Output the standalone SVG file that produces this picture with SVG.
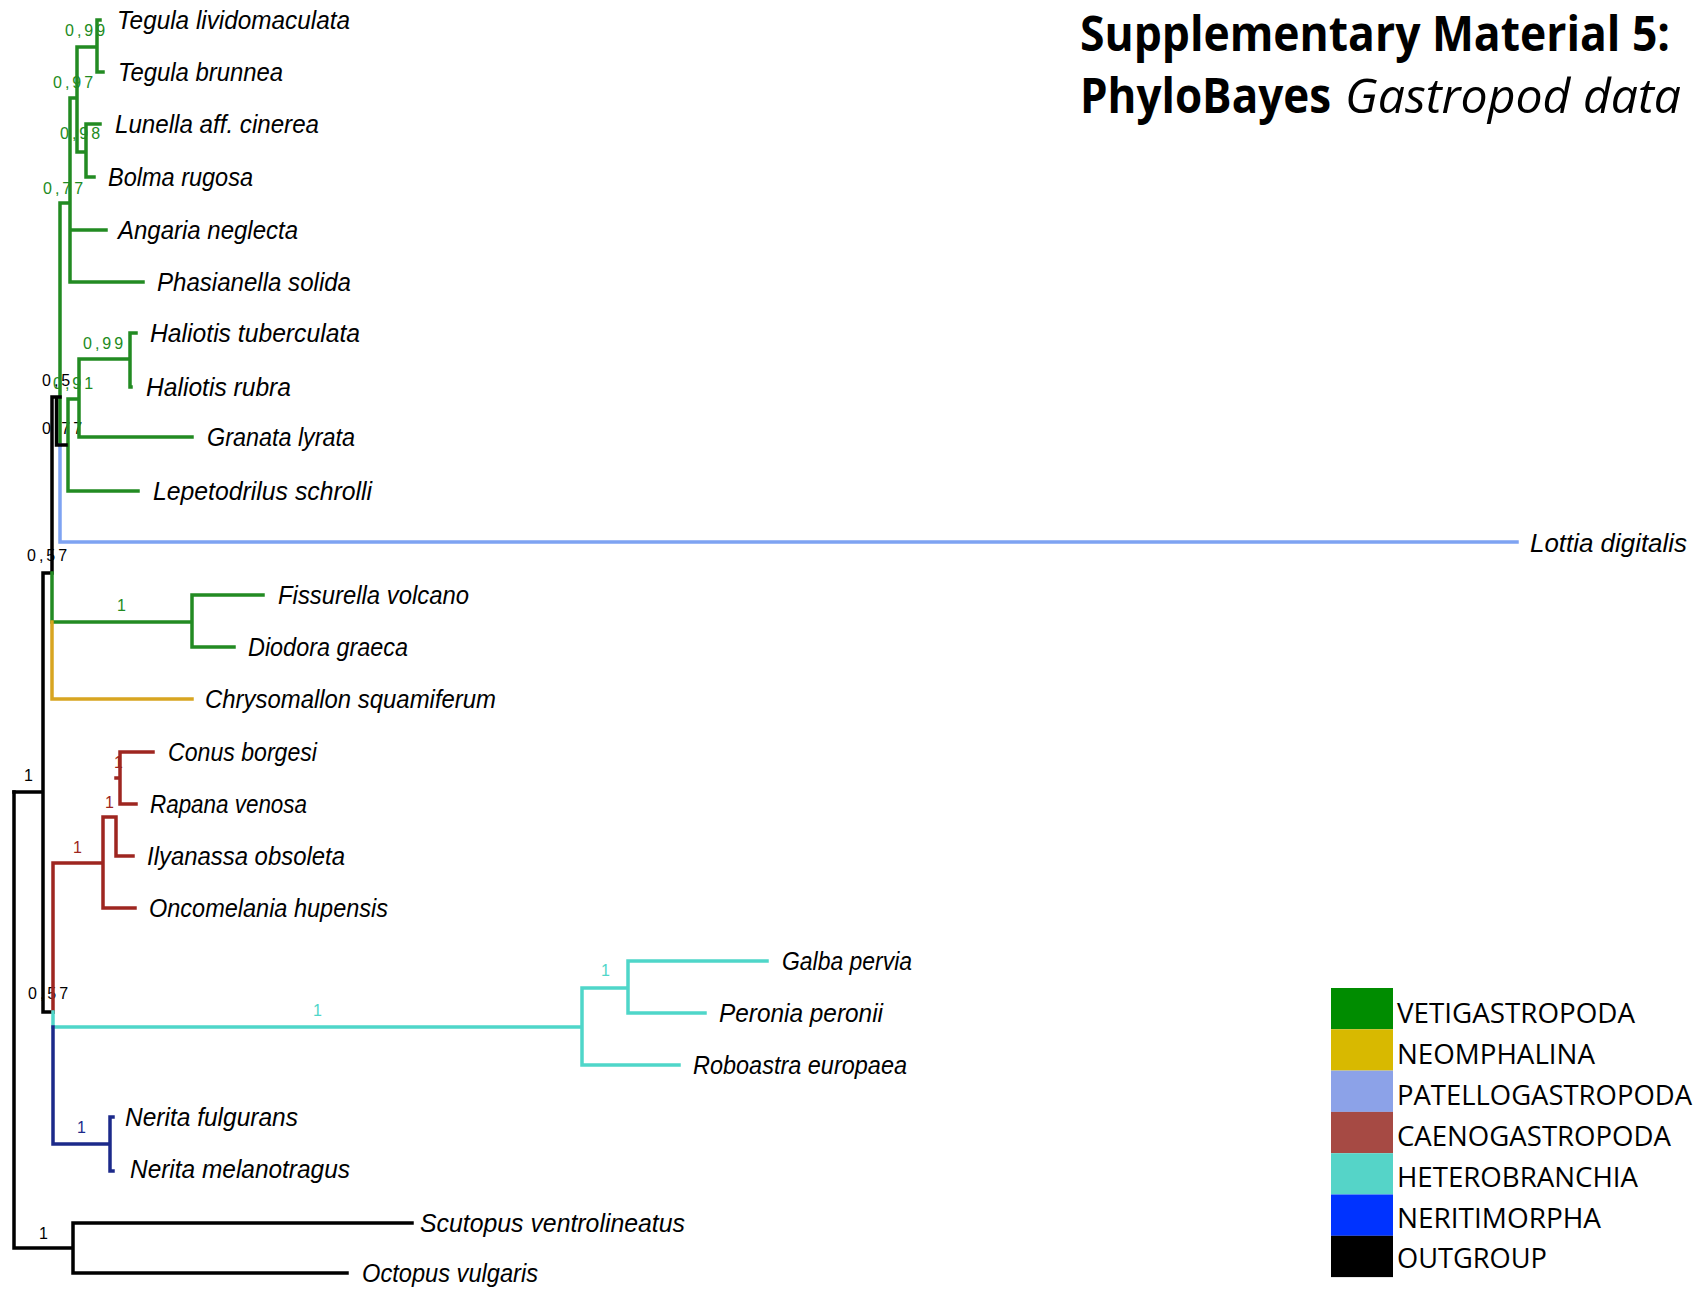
<svg xmlns="http://www.w3.org/2000/svg" width="1697" height="1289" viewBox="0 0 1697 1289">
<style>
.br{fill:none;stroke-width:3.5;stroke-linecap:square;stroke-linejoin:miter}
.g{stroke:#228b22}.k{stroke:#000}.lb{stroke:#7ea3f2}.au{stroke:#d8a521}.rd{stroke:#9e2620}.cy{stroke:#4fd6c9}.bl{stroke:#1c2a8a}
.tx{font-family:"Liberation Sans",Arial,sans-serif;font-style:italic;font-size:25px;fill:#000}
.sp{font-family:"Liberation Sans",Arial,sans-serif;font-size:16px;letter-spacing:3px}
.lg{font-family:"Open Sans","Liberation Sans",sans-serif;font-size:27px;fill:#000}
.tt{font-family:"Open Sans","Liberation Sans",sans-serif;font-size:48px;fill:#000}
</style>
<rect width="1697" height="1289" fill="#fff"/>
<g id="title">
<text class="tt" font-weight="bold" x="1080" y="51" textLength="590" lengthAdjust="spacingAndGlyphs">Supplementary Material 5:</text>
<text class="tt" y="113"><tspan x="1080" font-weight="bold" textLength="251" lengthAdjust="spacingAndGlyphs">PhyloBayes</tspan><tspan x="1345" font-style="italic" textLength="336" lengthAdjust="spacingAndGlyphs">Gastropod data</tspan></text>
</g>
<g id="support-labels">
<text class="sp" x="42" y="386" fill="#000">0,5</text>
<text class="sp" x="65" y="36" fill="#228b22">0,99</text>
<text class="sp" x="53" y="88" fill="#228b22">0,97</text>
<text class="sp" x="60" y="139" fill="#228b22">0,98</text>
<text class="sp" x="43" y="194" fill="#228b22">0,77</text>
<text class="sp" x="83" y="349" fill="#228b22">0,99</text>
<text class="sp" x="53" y="389" fill="#228b22">0,91</text>
<text class="sp" x="42" y="434" fill="#000">0,77</text>
<text class="sp" x="27" y="561" fill="#000">0,57</text>
<text class="sp" x="117" y="611" fill="#228b22">1</text>
<text class="sp" x="114" y="768" fill="#9e2620">1</text>
<text class="sp" x="24" y="781" fill="#000">1</text>
<text class="sp" x="105" y="808" fill="#9e2620">1</text>
<text class="sp" x="73" y="853" fill="#9e2620">1</text>
<text class="sp" x="28" y="999" fill="#000">0,57</text>
<text class="sp" x="313" y="1016" fill="#4fd6c9">1</text>
<text class="sp" x="601" y="976" fill="#4fd6c9">1</text>
<text class="sp" x="77" y="1133" fill="#1c2a8a">1</text>
<text class="sp" x="39" y="1239" fill="#000">1</text>
</g>
<g id="connectors">
<path class="br g" d="M100,20H97V72H103M97,47H77V152H86M86,124V177M86,124H100M86,177H94M77,98H70V282H143M70,230H106M70,203H60V445"/>
<path class="br g" d="M136,333H130V387H131M130,359H79V437H192M79,399H68V491H138"/>
<path class="br lb" d="M60,445V542H1517"/>
<path class="br k" d="M52,397H60M56.5,397V445H66M52,397V573H43V1012H53M14,792H43"/>
<path class="br g" d="M52,573V622H192M192,595V647M192,595H263M192,647H234"/>
<path class="br au" d="M52,622V699H192"/>
<path class="br rd" d="M53,1012V863H103M103,817V908H135M103,817H116V856H133M116,778H120M120,752V804M120,752H153M120,804H136"/>
<path class="br cy" d="M53,1012V1027H582M582,988V1065H679M582,988H628V1013H705M628,961V988M628,961H767"/>
<path class="br bl" d="M53,1027V1144H110M110,1117V1171M110,1117H113M110,1171H113"/>
<path class="br k" d="M14,792V1248H73M73,1223V1273M73,1223H412M73,1273H347"/>
</g>
<g id="taxa">
<text class="tx" x="117" y="29" textLength="233" lengthAdjust="spacingAndGlyphs">Tegula lividomaculata</text>
<text class="tx" x="118" y="81" textLength="165" lengthAdjust="spacingAndGlyphs">Tegula brunnea</text>
<text class="tx" x="115" y="133" textLength="204" lengthAdjust="spacingAndGlyphs">Lunella aff. cinerea</text>
<text class="tx" x="108" y="186" textLength="145" lengthAdjust="spacingAndGlyphs">Bolma rugosa</text>
<text class="tx" x="118" y="239" textLength="180" lengthAdjust="spacingAndGlyphs">Angaria neglecta</text>
<text class="tx" x="157" y="291" textLength="194" lengthAdjust="spacingAndGlyphs">Phasianella solida</text>
<text class="tx" x="150" y="342" textLength="210" lengthAdjust="spacingAndGlyphs">Haliotis tuberculata</text>
<text class="tx" x="146" y="396" textLength="145" lengthAdjust="spacingAndGlyphs">Haliotis rubra</text>
<text class="tx" x="207" y="446" textLength="148" lengthAdjust="spacingAndGlyphs">Granata lyrata</text>
<text class="tx" x="153" y="500" textLength="219" lengthAdjust="spacingAndGlyphs">Lepetodrilus schrolli</text>
<text class="tx" x="1530" y="552" textLength="157" lengthAdjust="spacingAndGlyphs">Lottia digitalis</text>
<text class="tx" x="278" y="604" textLength="191" lengthAdjust="spacingAndGlyphs">Fissurella volcano</text>
<text class="tx" x="248" y="656" textLength="160" lengthAdjust="spacingAndGlyphs">Diodora graeca</text>
<text class="tx" x="205" y="708" textLength="291" lengthAdjust="spacingAndGlyphs">Chrysomallon squamiferum</text>
<text class="tx" x="168" y="761" textLength="149" lengthAdjust="spacingAndGlyphs">Conus borgesi</text>
<text class="tx" x="150" y="813" textLength="157" lengthAdjust="spacingAndGlyphs">Rapana venosa</text>
<text class="tx" x="147" y="865" textLength="198" lengthAdjust="spacingAndGlyphs">Ilyanassa obsoleta</text>
<text class="tx" x="149" y="917" textLength="239" lengthAdjust="spacingAndGlyphs">Oncomelania hupensis</text>
<text class="tx" x="782" y="970" textLength="130" lengthAdjust="spacingAndGlyphs">Galba pervia</text>
<text class="tx" x="719" y="1022" textLength="164" lengthAdjust="spacingAndGlyphs">Peronia peronii</text>
<text class="tx" x="693" y="1074" textLength="214" lengthAdjust="spacingAndGlyphs">Roboastra europaea</text>
<text class="tx" x="125" y="1126" textLength="173" lengthAdjust="spacingAndGlyphs">Nerita fulgurans</text>
<text class="tx" x="130" y="1178" textLength="220" lengthAdjust="spacingAndGlyphs">Nerita melanotragus</text>
<text class="tx" x="420" y="1232" textLength="265" lengthAdjust="spacingAndGlyphs">Scutopus ventrolineatus</text>
<text class="tx" x="362" y="1282" textLength="176" lengthAdjust="spacingAndGlyphs">Octopus vulgaris</text>
</g>
<g id="legend">
<rect x="1331" y="988" width="62" height="41.3" fill="#008c00"/>
<rect x="1331" y="1029.3" width="62" height="41.3" fill="#d8b900"/>
<rect x="1331" y="1070.6" width="62" height="41.3" fill="#8ca2e8"/>
<rect x="1331" y="1111.9" width="62" height="41.3" fill="#a64a44"/>
<rect x="1331" y="1153.2" width="62" height="41.3" fill="#55d4c8"/>
<rect x="1331" y="1194.5" width="62" height="41.3" fill="#0033ff"/>
<rect x="1331" y="1235.8" width="62" height="41.3" fill="#000"/>
<text class="lg" x="1397" y="1023" textLength="238" lengthAdjust="spacingAndGlyphs">VETIGASTROPODA</text>
<text class="lg" x="1397" y="1064" textLength="198" lengthAdjust="spacingAndGlyphs">NEOMPHALINA</text>
<text class="lg" x="1397" y="1105" textLength="295" lengthAdjust="spacingAndGlyphs">PATELLOGASTROPODA</text>
<text class="lg" x="1397" y="1146" textLength="274" lengthAdjust="spacingAndGlyphs">CAENOGASTROPODA</text>
<text class="lg" x="1397" y="1187" textLength="241" lengthAdjust="spacingAndGlyphs">HETEROBRANCHIA</text>
<text class="lg" x="1397" y="1228" textLength="204" lengthAdjust="spacingAndGlyphs">NERITIMORPHA</text>
<text class="lg" x="1397" y="1268" textLength="150" lengthAdjust="spacingAndGlyphs">OUTGROUP</text>
</g>
</svg>
